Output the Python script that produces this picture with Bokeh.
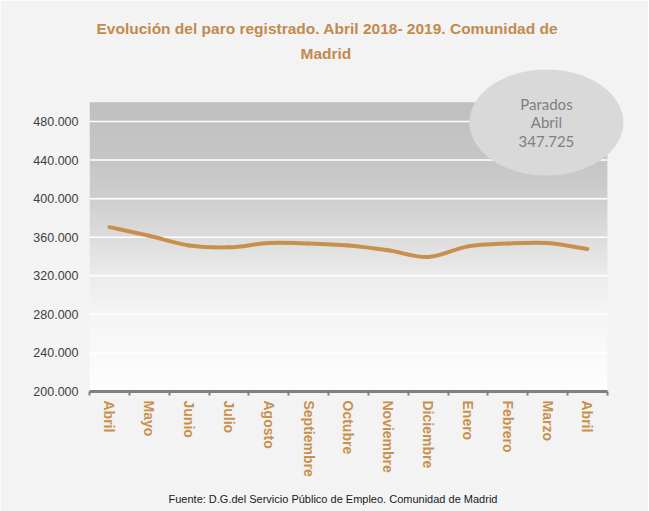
import numpy as np
from bokeh.plotting import figure
from bokeh.models import Range1d, FixedTicker, Title
from bokeh.core.properties import value
from bokeh.embed import file_html
from bokeh.resources import INLINE

# ---------------- data ----------------
months = ["Abril", "Mayo", "Junio", "Julio", "Agosto", "Septiembre", "Octubre",
          "Noviembre", "Diciembre", "Enero", "Febrero", "Marzo", "Abril"]
parados = [370500, 361500, 351500, 349500, 354000, 353500, 351500,
           346500, 339500, 350500, 353500, 354000, 347725]
y_ticks = [200000, 240000, 280000, 320000, 360000, 400000, 440000, 480000]
y_tick_labels = ["200.000", "240.000", "280.000", "320.000", "360.000",
                 "400.000", "440.000", "480.000"]
title_lines = ["Evolución del paro registrado. Abril 2018- 2019. Comunidad de", "Madrid"]
source_text = "Fuente: D.G.del Servicio Público de Empleo. Comunidad  de Madrid"
callout_title = ["Parados", "Abril"]

# ---------------- styles ----------------
ORANGE = "#C8904E"
TITLE_COL = "#C28A4D"
BG = "#F3F3F3"
SANS = "Liberation Sans"

x = list(range(len(months)))
Y_MIN, Y_PLOT_TOP, Y_MAX = 200000, 500000, 535000
X_MIN, X_MAX = -0.5, 12.93

p = figure(frame_width=535, frame_height=323,
           x_range=Range1d(X_MIN, X_MAX), y_range=Range1d(Y_MIN, Y_MAX),
           output_backend="svg", toolbar_location=None, title_location=None,
           min_border_left=89, min_border_right=24,
           min_border_top=68, min_border_bottom=119)
p.background_fill_color = BG
p.border_fill_color = BG
p.outline_line_color = None
p.grid.visible = False

# title (two centred lines)
t2 = Title(text=title_lines[1], align="left", offset=211, text_font=SANS,
           text_font_size="15.5px", text_font_style="bold", text_color=TITLE_COL,
           standoff=13)
t1 = Title(text=title_lines[0], align="left", offset=7, text_font=SANS,
           text_font_size="15.5px", text_font_style="bold", text_color=TITLE_COL,
           standoff=0)
p.add_layout(t2, "above")
p.add_layout(t1, "above")

footer = Title(text=source_text, align="left", offset=79,
               text_font=SANS, text_font_size="11px",
               text_font_style="normal", text_color="#1a1a1a", standoff=22)
p.add_layout(footer, "below")

# gradient plot background (decoration)
stops_v = [Y_MIN, 240000, 280000, 320000, 360000, 400000, 440000, Y_PLOT_TOP]
stops_c = [254, 250, 245, 236, 221, 207, 198, 192]
n = 300
vals = np.linspace(Y_MIN, Y_PLOT_TOP, n)
grey = np.interp(vals, stops_v, stops_c).astype(np.uint8)
img = np.zeros((n, 2), dtype=np.uint32)
view = img.view(dtype=np.uint8).reshape((n, 2, 4))
view[:, :, 0] = grey[:, None]
view[:, :, 1] = grey[:, None]
view[:, :, 2] = grey[:, None]
view[:, :, 3] = 255
x_left, x_right = x[0] - 0.5, x[-1] + 0.5
p.image_rgba(image=[img], x=x_left, y=Y_MIN, dw=x_right - x_left, dh=Y_PLOT_TOP - Y_MIN)

# white grid lines
gl = [t for t in y_ticks if t > Y_MIN]
p.segment(x0=[x_left] * len(gl), x1=[x_right] * len(gl), y0=gl, y1=gl,
          line_color="white", line_width=1.5)

# smooth line via Catmull-Rom -> Bezier
P = list(zip(x, parados))
x0s, y0s, x1s, y1s, cx0, cy0, cx1, cy1 = [], [], [], [], [], [], [], []
for i in range(len(P) - 1):
    pm = P[i - 1] if i > 0 else P[i]
    p0 = P[i]
    p1 = P[i + 1]
    p2 = P[i + 2] if i + 2 < len(P) else P[i + 1]
    x0s.append(p0[0]); y0s.append(p0[1])
    x1s.append(p1[0]); y1s.append(p1[1])
    cx0.append(p0[0] + (p1[0] - pm[0]) / 6); cy0.append(p0[1] + (p1[1] - pm[1]) / 6)
    cx1.append(p1[0] - (p2[0] - p0[0]) / 6); cy1.append(p1[1] - (p2[1] - p0[1]) / 6)
p.bezier(x0=x0s, y0=y0s, x1=x1s, y1=y1s, cx0=cx0, cy0=cy0, cx1=cx1, cy1=cy1,
         line_color=ORANGE, line_width=4, line_cap="round")

# callout ellipse
callout_text = "\n".join(callout_title + [f"{parados[-1]:,}".replace(",", ".")])
CX, CY = 10.97, 479000
p.ellipse(x=[CX], y=[CY], width=154, height=106, width_units="screen",
          height_units="screen", fill_color="#D9D9D9", line_color=None)
p.text(x=[CX], y=[CY], text=[callout_text], text_align="center",
       text_baseline="middle", text_font=value("Lato"), text_font_size="15px",
       text_color="#7F7F7F", text_line_height=1.05)

# x axis
xa = p.xaxis[0]
xa.ticker = FixedTicker(ticks=x, minor_ticks=[v - 0.5 for v in x] + [x[-1] + 0.5])
xa.major_label_overrides = {i: m for i, m in zip(x, months)}
xa.bounds = (x_left, x_right)
xa.axis_line_color = "#7F7F7F"
xa.axis_line_width = 3
xa.major_tick_line_color = None
xa.major_tick_out = 0
xa.major_tick_in = 0
xa.minor_tick_line_color = "#7F7F7F"
xa.minor_tick_line_width = 2
xa.minor_tick_out = 4
xa.minor_tick_in = 0
xa.major_label_orientation = "vertical"
xa.major_label_text_font = SANS
xa.major_label_text_font_style = "bold"
xa.major_label_text_font_size = "14px"
xa.major_label_text_color = ORANGE
xa.major_label_standoff = 5

# y axis
ya = p.yaxis[0]
ya.ticker = FixedTicker(ticks=y_ticks)
ya.major_label_overrides = {t: s for t, s in zip(y_ticks, y_tick_labels)}
ya.axis_line_color = None
ya.major_tick_line_color = None
ya.minor_tick_line_color = None
ya.major_tick_out = 0
ya.major_label_standoff = 11
ya.major_label_text_font = SANS
ya.major_label_text_font_size = "12.5px"
ya.major_label_text_color = "#404040"

open("out.html", "w").write(file_html(p, INLINE))
